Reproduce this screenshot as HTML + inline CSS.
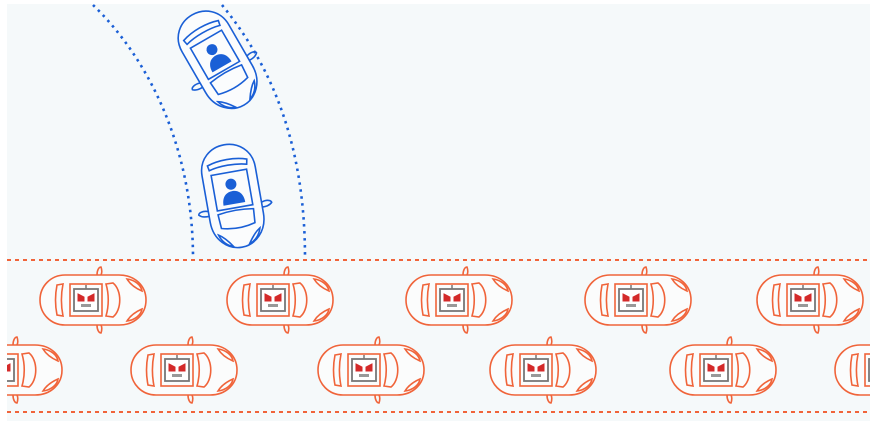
<!DOCTYPE html>
<html><head><meta charset="utf-8"><style>
html,body{margin:0;padding:0;background:#fff;}
svg{display:block;}
</style></head><body>
<svg width="870" height="421" viewBox="0 0 870 421" xmlns="http://www.w3.org/2000/svg">
<defs>
<g id="rc" fill="none" stroke="#f0643a" stroke-width="1.6">
  <path d="M-28,-25 H26 C42,-25 53,-14 53,0 C53,14 42,25 26,25 H-28 C-42,25 -53,14 -53,0 C-53,-14 -42,-25 -28,-25 Z" fill="#fbfcfc"/>
  <path d="M-36,-15 L-30,-16 C-32,-6 -32,6 -30,16 L-36,15 C-38,5 -38,-5 -36,-15 Z"/>
  <rect x="-23" y="-16" width="32" height="32"/>
  <path d="M13,-16 L20,-17 C29,-10 29,10 20,17 L13,16 C16,6 16,-6 13,-16 Z"/>
  <path d="M34,-21 C42,-20 48,-15 49,-9 C42,-12 37,-16 34,-21 Z"/>
  <path d="M34,21 C42,20 48,15 49,9 C42,12 37,16 34,21 Z"/>
  <path d="M4,-25 C4,-30 6,-33 8,-33 C9,-30 9,-27 8,-25"/>
  <path d="M4,25 C4,30 6,33 8,33 C9,30 9,27 8,25"/>
  <rect x="-19" y="-11" width="24" height="22" stroke="#777" stroke-width="1.8" fill="#fff"/>
  <line x1="-7" y1="-11" x2="-7" y2="-15" stroke="#777" stroke-width="1.5"/>
  <path d="M-15,-6 L-9,-3 L-9,1 L-15,1 Z M1,-6 L-5,-3 L-5,1 L1,1 Z" fill="#d42a2a" stroke="#d42a2a" stroke-width="1"/>
  <rect x="-12" y="4" width="10" height="3" fill="#999" stroke="none"/>
</g>
<g id="bc" fill="none" stroke="#1a5fd6" stroke-width="1.6">
  <path d="M-27,-25 C-27,-42 -14,-52 0,-52 C14,-52 27,-42 27,-25 V22 C27,40 14,52 0,52 C-14,52 -27,40 -27,22 Z" fill="#fbfcfd"/>
  <path d="M-20,-34 C-8,-38 8,-38 20,-34 L19,-29 C8,-32 -8,-32 -19,-29 Z"/>
  <rect x="-18" y="-24" width="36" height="36"/>
  <path d="M-18,16 C-6,14 6,14 18,16 L17,30 C6,33 -6,33 -17,30 Z"/>
  <path d="M-21,36 C-19,43 -14,48 -8,50 C-12,44 -16,39 -21,36 Z"/>
  <path d="M21,36 C19,43 14,48 8,50 C12,44 16,39 21,36 Z"/>
  <path d="M27,11 C33,9 37,11 37,13 C34,16 30,16 27,16"/>
  <path d="M-27,11 C-33,9 -37,11 -37,13 C-34,16 -30,16 -27,16"/>
  <circle cx="0" cy="-12" r="5.5" fill="#1a5fd6" stroke="none"/>
  <path d="M-11,8 C-11,-2 -5,-5 0,-5 C5,-5 11,-2 11,8 Z" fill="#1a5fd6" stroke="none"/>
</g>
</defs>
<rect x="7" y="4" width="863" height="417" fill="#f5f9fa"/>
<path d="M93,5 C150,60 193,150 193,258" fill="none" stroke="#1a5fd6" stroke-width="2.6" stroke-dasharray="2.5 4.5"/>
<path d="M222,5 C275,70 305,150 305,258" fill="none" stroke="#1a5fd6" stroke-width="2.6" stroke-dasharray="2.5 4.5"/>
<line x1="7" y1="260" x2="870" y2="260" stroke="#f0643a" stroke-width="2" stroke-dasharray="4 4"/>
<line x1="7" y1="412" x2="870" y2="412" stroke="#f0643a" stroke-width="2" stroke-dasharray="4 4"/>
<use href="#bc" transform="translate(218,60) rotate(-30)"/>
<use href="#bc" transform="translate(233,196) rotate(-10)"/>
<use href="#rc" transform="translate(93,300)"/>
<use href="#rc" transform="translate(280,300)"/>
<use href="#rc" transform="translate(459,300)"/>
<use href="#rc" transform="translate(638,300)"/>
<use href="#rc" transform="translate(810,300)"/>
<svg x="7" y="330" width="863" height="80" viewBox="7 330 863 80" overflow="hidden">
<use href="#rc" transform="translate(9,370)"/>
<use href="#rc" transform="translate(184,370)"/>
<use href="#rc" transform="translate(371,370)"/>
<use href="#rc" transform="translate(543,370)"/>
<use href="#rc" transform="translate(723,370)"/>
<use href="#rc" transform="translate(888,370)"/>
</svg>
</svg>
</body></html>
